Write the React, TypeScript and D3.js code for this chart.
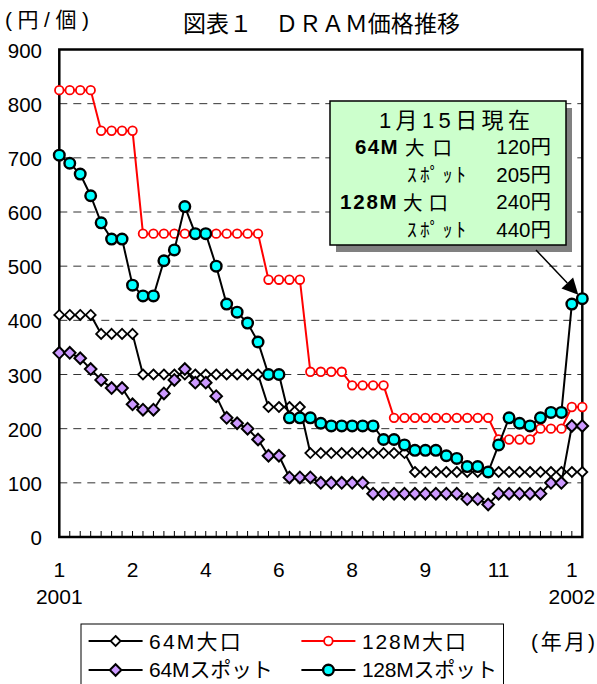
import { useEffect, useRef } from "react";
import * as d3 from "d3";

const WIDTH = 597;
const HEIGHT = 684;

// weekly prices Jan 2001 - Jan 2002 (yen / piece)
const bulk64 = [
  410, 410, 410, 410, 375, 375, 375, 375, 300, 300, 300, 300, 300, 300, 300, 300, 300,
  300, 300, 300, 240, 240, 240, 240, 155, 155, 155, 155, 155, 155, 155, 155, 155, 155,
  120, 120, 120, 120, 120, 120, 120, 120, 120, 120, 120, 120, 120, 120, 120, 120, 120,
];
const spot64 = [
  340, 340, 330, 310, 290, 275, 275, 245, 235, 235, 265, 290, 310, 285, 285, 260, 220,
  210, 200, 180, 150, 150, 110, 110, 110, 100, 100, 100, 100, 100, 80, 80, 80, 80, 80,
  80, 80, 80, 80, 70, 70, 60, 80, 80, 80, 80, 80, 100, 100, 205, 205,
];
const bulk128 = [
  825, 825, 825, 825, 750, 750, 750, 750, 560, 560, 560, 560, 560, 560, 560, 560, 560,
  560, 560, 560, 475, 475, 475, 475, 305, 305, 305, 305, 280, 280, 280, 280, 220, 220,
  220, 220, 220, 220, 220, 220, 220, 220, 180, 180, 180, 180, 200, 200, 200, 240, 240,
];
const spot128 = [
  705, 690, 670, 630, 580, 550, 550, 465, 445, 445, 510, 530, 610, 560, 560, 500, 430,
  415, 395, 360, 300, 300, 220, 220, 220, 210, 205, 205, 205, 205, 205, 180, 180, 170,
  160, 160, 160, 150, 145, 130, 130, 120, 170, 220, 210, 205, 220, 230, 230, 430, 440,
];

const yTicks = [0, 100, 200, 300, 400, 500, 600, 700, 800, 900];
const monthLabels = ["1", "2", "4", "6", "8", "9", "11", "1"];
const monthIndex = [0, 7, 14, 21, 28, 35, 42, 49];
const yearLabels = ["2001", "2002"];
const yearIndex = [0, 49];

const noteTitle = "1月15日現在";
const noteRows = [
  { size: "64M", kind: "大口", price: "120円" },
  { size: "", kind: "ｽﾎﾟｯﾄ", price: "205円" },
  { size: "128M", kind: "大口", price: "240円" },
  { size: "", kind: "ｽﾎﾟｯﾄ", price: "440円" },
];

const numFont = "'Liberation Sans', Arial, 'Noto Sans CJK JP', sans-serif";
const jpFont = "'Noto Sans CJK JP', sans-serif";

const series = [
  { name: "64M大口", values: bulk64, line: "#000", shape: "diamond", fill: "#fff", stroke: "#000", size: 5, sw: 1.8 },
  { name: "64Mスポット", values: spot64, line: "#000", shape: "diamond", fill: "#cc99ff", stroke: "#000", size: 5.8, sw: 2 },
  { name: "128M大口", values: bulk128, line: "#ff0000", shape: "circle", fill: "#fff", stroke: "#ff0000", size: 4.3, sw: 1.8 },
  { name: "128Mスポット", values: spot128, line: "#000", shape: "circle", fill: "#00ffff", stroke: "#000", size: 5.3, sw: 2.4 },
];

const diamond = (cx: number, cy: number, s: number) =>
  `M${cx},${cy - s}L${cx + s},${cy}L${cx},${cy + s}L${cx - s},${cy}Z`;

function drawMarker(g: any, s: any, cx: number, cy: number) {
  if (s.shape === "diamond") {
    g.append("path")
      .attr("d", diamond(cx, cy, s.size))
      .attr("fill", s.fill)
      .attr("stroke", s.stroke)
      .attr("stroke-width", s.sw);
  } else {
    g.append("circle")
      .attr("cx", cx)
      .attr("cy", cy)
      .attr("r", s.size)
      .attr("fill", s.fill)
      .attr("stroke", s.stroke)
      .attr("stroke-width", s.sw);
  }
}

export default function App() {
  const svgRef = useRef<SVGSVGElement>(null);

  useEffect(() => {
    const svg = d3.select(svgRef.current);
    svg.selectAll("*").remove();

    const plot = { left: 59.3, right: 582.3, top: 49.5, bottom: 537 };
    const x = d3.scaleLinear().domain([0, bulk64.length - 1]).range([plot.left, plot.right]);
    const y = d3.scaleLinear().domain([0, 900]).range([plot.bottom, plot.top]);

    svg.append("rect").attr("width", WIDTH).attr("height", HEIGHT).attr("fill", "#fff");

    // title + unit
    svg.append("text")
      .attr("x", 183).attr("y", 31.5)
      .attr("font-family", jpFont).attr("font-size", 23)
      .attr("textLength", 277).attr("lengthAdjust", "spacing")
      .text("図表１　ＤＲＡＭ価格推移");
    svg.append("text")
      .attr("x", 5).attr("y", 27)
      .attr("font-family", numFont).attr("font-size", 21)
      .attr("textLength", 84).attr("lengthAdjust", "spacing")
      .text("(円/個)");

    // gridlines
    svg.append("g")
      .selectAll("line")
      .data(yTicks.filter((v) => v > 0 && v < 900))
      .join("line")
      .attr("x1", plot.left).attr("x2", plot.right)
      .attr("y1", (d) => y(d)).attr("y2", (d) => y(d))
      .attr("stroke", "#333").attr("stroke-width", 1)
      .attr("stroke-dasharray", "8,6");

    // frame
    svg.append("rect")
      .attr("x", plot.left).attr("y", plot.top)
      .attr("width", plot.right - plot.left).attr("height", plot.bottom - plot.top)
      .attr("fill", "none").attr("stroke", "#000").attr("stroke-width", 2.5);

    // x ticks (inside)
    svg.append("g")
      .selectAll("line")
      .data(d3.range(bulk64.length))
      .join("line")
      .attr("x1", (d) => x(d)).attr("x2", (d) => x(d))
      .attr("y1", plot.bottom).attr("y2", plot.bottom - 6)
      .attr("stroke", "#000").attr("stroke-width", 1);

    // y labels
    svg.append("g")
      .selectAll("text")
      .data(yTicks)
      .join("text")
      .attr("x", 42).attr("y", (d) => y(d) + 8)
      .attr("text-anchor", "end")
      .attr("font-family", numFont).attr("font-size", 20.5)
      .text((d) => d);

    // x labels
    svg.append("g")
      .selectAll("text")
      .data(monthLabels)
      .join("text")
      .attr("x", (_, i) => x(monthIndex[i])).attr("y", 577)
      .attr("text-anchor", "middle")
      .attr("font-family", numFont).attr("font-size", 21)
      .text((d) => d);
    svg.append("g")
      .selectAll("text")
      .data(yearLabels)
      .join("text")
      .attr("x", (_, i) => x(yearIndex[i])).attr("y", 604)
      .attr("text-anchor", "middle")
      .attr("font-family", numFont).attr("font-size", 21)
      .text((d) => d);

    // series
    const line = d3.line<number>().x((_, i) => x(i)).y((d) => y(d));
    series.forEach((s) => {
      const g = svg.append("g");
      g.append("path")
        .attr("d", line(s.values))
        .attr("fill", "none")
        .attr("stroke", s.line)
        .attr("stroke-width", 2);
      s.values.forEach((v, i) => drawMarker(g, s, x(i), y(v)));
    });

    // annotation box
    const box = { x: 330, y: 101, w: 236, h: 144 };
    svg.append("rect")
      .attr("x", box.x + 6).attr("y", box.y + 7)
      .attr("width", box.w).attr("height", box.h)
      .attr("fill", "#808080");
    svg.append("rect")
      .attr("x", box.x).attr("y", box.y)
      .attr("width", box.w).attr("height", box.h)
      .attr("fill", "#ccffcc").attr("stroke", "#000").attr("stroke-width", 1.5);

    svg.append("text")
      .attr("x", 379).attr("y", 127.5)
      .attr("font-family", numFont).attr("font-size", 22)
      .attr("textLength", 151).attr("lengthAdjust", "spacing")
      .text(noteTitle);

    const rowY = [154, 181.5, 209, 236.5];
    const sizeX = [355, 0, 340, 0];
    const sizeLen = [42.7, 0, 56.7, 0];
    const kindX = [405, 407, 403, 407];
    const kindLen = [47, 58.7, 45, 58.7];
    noteRows.forEach((r, i) => {
      if (r.size) {
        svg.append("text")
          .attr("x", sizeX[i]).attr("y", rowY[i])
          .attr("font-family", numFont).attr("font-size", 20.5).attr("font-weight", "bold")
          .attr("textLength", sizeLen[i]).attr("lengthAdjust", "spacing")
          .text(r.size);
      }
      svg.append("text")
        .attr("x", kindX[i]).attr("y", rowY[i] + (r.size ? 1 : 0))
        .attr("font-family", jpFont).attr("font-size", 19.5)
        .attr("textLength", kindLen[i]).attr("lengthAdjust", "spacing")
        .text(r.kind);
      svg.append("text")
        .attr("x", 551).attr("y", rowY[i])
        .attr("text-anchor", "end")
        .attr("font-family", numFont).attr("font-size", 20.5)
        .text(r.price);
    });

    // arrow to latest 128M spot price
    const last = spot128.length - 1;
    const tip = [x(last) - 4, y(spot128[last]) - 4];
    const start = [536, 250];
    const dx = tip[0] - start[0];
    const dy = tip[1] - start[1];
    const len = Math.hypot(dx, dy);
    const ux = dx / len, uy = dy / len;
    const base = [tip[0] - ux * 16, tip[1] - uy * 16];
    svg.append("line")
      .attr("x1", start[0]).attr("y1", start[1])
      .attr("x2", base[0]).attr("y2", base[1])
      .attr("stroke", "#000").attr("stroke-width", 1.5);
    svg.append("path")
      .attr("d", `M${tip[0]},${tip[1]}L${base[0] - uy * 8},${base[1] + ux * 8}L${base[0] + uy * 8},${base[1] - ux * 8}Z`)
      .attr("fill", "#000");

    // legend
    const legend = svg.append("g");
    legend.append("rect")
      .attr("x", 81).attr("y", 624)
      .attr("width", 422.5).attr("height", 80)
      .attr("fill", "#fff").attr("stroke", "#000").attr("stroke-width", 1);
    const order = [0, 2, 1, 3];
    const colX = [88.6, 301.4];
    const rowLineY = [641, 670];
    const rowTextY = [649, 677];
    const textLen = [91.6, 104, 123.7, 135];
    order.forEach((si, k) => {
      const s = series[si];
      const col = k % 2;
      const row = Math.floor(k / 2);
      const x0 = colX[col];
      legend.append("line")
        .attr("x1", x0).attr("x2", x0 + 54)
        .attr("y1", rowLineY[row]).attr("y2", rowLineY[row])
        .attr("stroke", s.line).attr("stroke-width", 2);
      drawMarker(legend, s, x0 + 27, rowLineY[row]);
      legend.append("text")
        .attr("x", x0 + 60.5).attr("y", rowTextY[row])
        .attr("font-family", numFont).attr("font-size", 21)
        .attr("textLength", textLen[k]).attr("lengthAdjust", "spacing")
        .text(s.name);
    });
    svg.append("text")
      .attr("x", 531).attr("y", 649)
      .attr("font-family", numFont).attr("font-size", 21)
      .attr("textLength", 64).attr("lengthAdjust", "spacing")
      .text("(年月)");
  }, []);

  return (
    <svg
      ref={svgRef}
      width={WIDTH}
      height={HEIGHT}
      style={{ position: "absolute", left: 0, top: 0, display: "block" }}
    />
  );
}
